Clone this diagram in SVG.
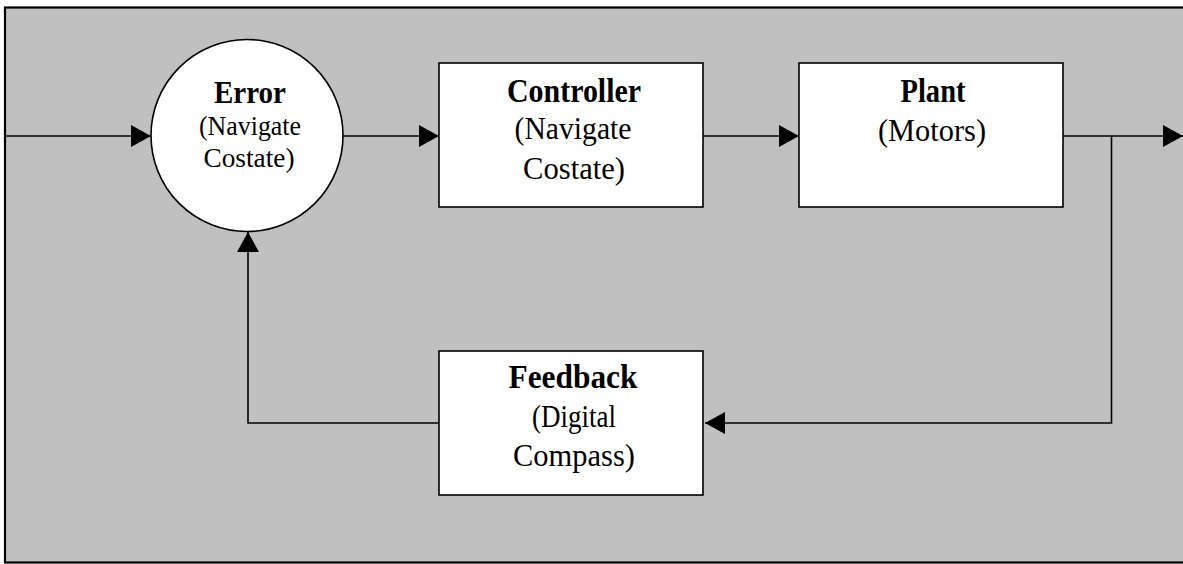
<svg xmlns="http://www.w3.org/2000/svg" width="1183" height="564" viewBox="0 0 1183 564">
<style>
.bg{fill:#c0c0c0;stroke:#000;stroke-width:2.2}
.node{fill:#fff;stroke:#000;stroke-width:1.6}
.wire{fill:none;stroke:#000;stroke-width:1.6}
text{font-family:"Liberation Serif","Times New Roman",serif;fill:#000;text-anchor:middle}
.b{font-weight:bold;font-size:33px}
.r{font-size:31px}
.rs{font-size:27px}
.bs{font-weight:bold;font-size:31px}
</style>
<defs>
<marker id="arr" viewBox="0 0 20 22" markerWidth="20" markerHeight="22" refX="20" refY="11" markerUnits="userSpaceOnUse" orient="auto">
<path d="M0,0 L20,11 L0,22 Z" fill="#000"/>
</marker>
</defs>
<rect class="bg" x="5" y="7.5" width="1190" height="555"/>
<g id="connectors">
<path class="wire" d="M5,136 H151" marker-end="url(#arr)"/>
<path class="wire" d="M343,136 H439" marker-end="url(#arr)"/>
<path class="wire" d="M703,136 H799" marker-end="url(#arr)"/>
<path class="wire" d="M1063,136 H1183" marker-end="url(#arr)"/>
<path class="wire" d="M1111.5,136 V423 H705" marker-end="url(#arr)"/>
<path class="wire" d="M439,423 H248 V232" marker-end="url(#arr)"/>
</g>
<g id="error">
<circle class="node" cx="247" cy="135.5" r="96"/>
<text class="bs" x="250" y="103" textLength="72" lengthAdjust="spacingAndGlyphs">Error</text>
<text class="rs" x="250" y="135" textLength="102" lengthAdjust="spacingAndGlyphs">(Navigate</text>
<text class="rs" x="249" y="167" textLength="91" lengthAdjust="spacingAndGlyphs">Costate)</text>
</g>
<g id="controller">
<rect class="node" x="439" y="63" width="264" height="144"/>
<text class="b" x="574" y="102" textLength="134" lengthAdjust="spacingAndGlyphs">Controller</text>
<text class="r" x="573" y="139" textLength="117" lengthAdjust="spacingAndGlyphs">(Navigate</text>
<text class="r" x="574" y="179" textLength="102" lengthAdjust="spacingAndGlyphs">Costate)</text>
</g>
<g id="plant">
<rect class="node" x="799" y="63" width="264" height="144"/>
<text class="b" x="933" y="102" textLength="65" lengthAdjust="spacingAndGlyphs">Plant</text>
<text class="r" x="932" y="141" textLength="108" lengthAdjust="spacingAndGlyphs">(Motors)</text>
</g>
<g id="feedback">
<rect class="node" x="439" y="351" width="264" height="144"/>
<text class="b" x="573" y="388" textLength="129" lengthAdjust="spacingAndGlyphs">Feedback</text>
<text class="r" x="574" y="427" textLength="84" lengthAdjust="spacingAndGlyphs">(Digital</text>
<text class="r" x="574" y="466" textLength="122" lengthAdjust="spacingAndGlyphs">Compass)</text>
</g>
</svg>
